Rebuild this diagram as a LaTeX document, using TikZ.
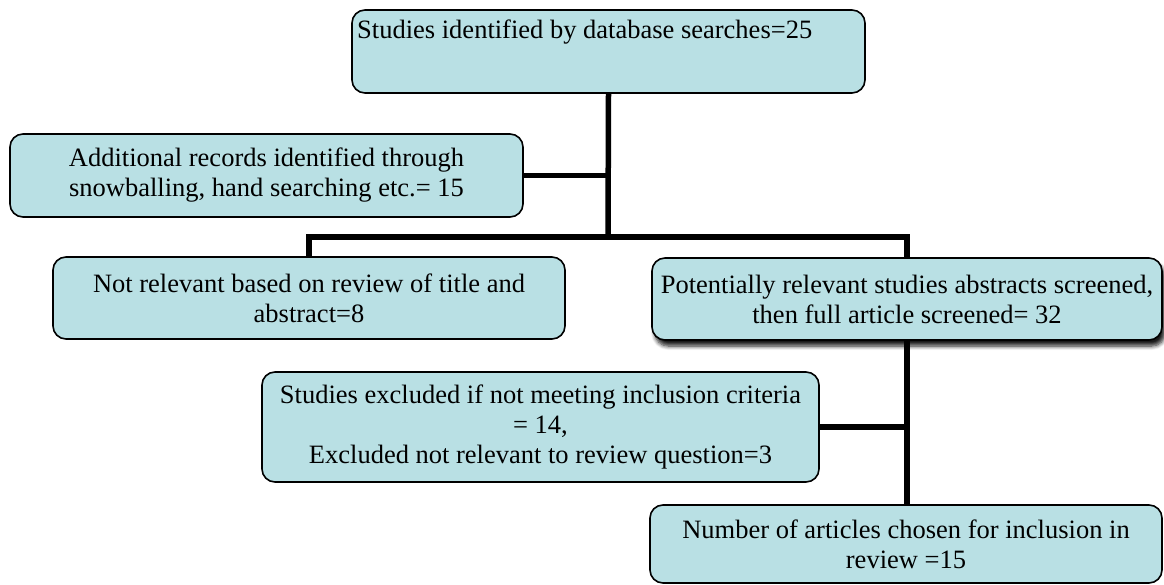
\documentclass[tikz,border=0pt]{standalone}
\usepackage{fontspec}
\setmainfont{Liberation Serif}
\usetikzlibrary{shadows.blur}
\definecolor{boxfill}{RGB}{185,224,228}
\tikzset{
  flowbox/.style={draw=black, line width=1.6pt, fill=boxfill, rounded corners=13pt,
    inner sep=0pt, align=center, font=\fontsize{26.5}{30}\selectfont},
  flowtext/.style={inner sep=0pt, font=\fontsize{26.5}{30}\selectfont},
  link/.style={draw=black, line width=5.5pt, line join=miter}
}
\begin{document}
\begin{tikzpicture}[x=1pt,y=-1pt]
  \useasboundingbox (0,0) rectangle (1164,585);

  % boxes
  \node[flowbox, minimum width=513pt, minimum height=83pt] (b1) at (608.5,51.5) {};
  \node[flowtext, anchor=base west] (t1) at (357,39) {Studies identified by database searches=25};
  \node[flowbox, minimum width=513pt, minimum height=83pt] (b2) at (266.5,175.5)
    {Additional records identified through\\snowballing, hand searching etc.= 15};
  \node[flowbox, minimum width=512pt, minimum height=82pt] (b3) at (309,298)
    {Not relevant based on review of title and\\abstract=8};
  \node[flowbox, minimum width=510pt, minimum height=82pt,
        blur shadow={shadow xshift=3pt, shadow yshift=-6pt, shadow blur steps=6,
                     shadow blur radius=4pt, shadow opacity=90}]
        (b4) at (907,299)
    {Potentially relevant studies abstracts screened,\\then full article screened= 32};
  \node[flowbox, minimum width=557pt, minimum height=110pt] (b5) at (540.5,427)
    {Studies excluded if not meeting inclusion criteria\\= 14,\\Excluded not relevant to review question=3};
  \node[flowbox, minimum width=512pt, minimum height=78pt] (b6) at (906,544)
    {Number of articles chosen for inclusion in\\review =15};

  % connectors
  \coordinate (j) at (608,237);
  \draw[link] (b1.south) -- (j);
  \draw[link] (b2.east) -- (b2.east -| j);
  \draw[link] (b3.north) |- (j) -| (b4.north);
  \draw[link] (b4.south) -- (b4.south |- b6.north);
  \draw[link] (b5.east) -- (b5.east -| b4.south);
\end{tikzpicture}
\end{document}
